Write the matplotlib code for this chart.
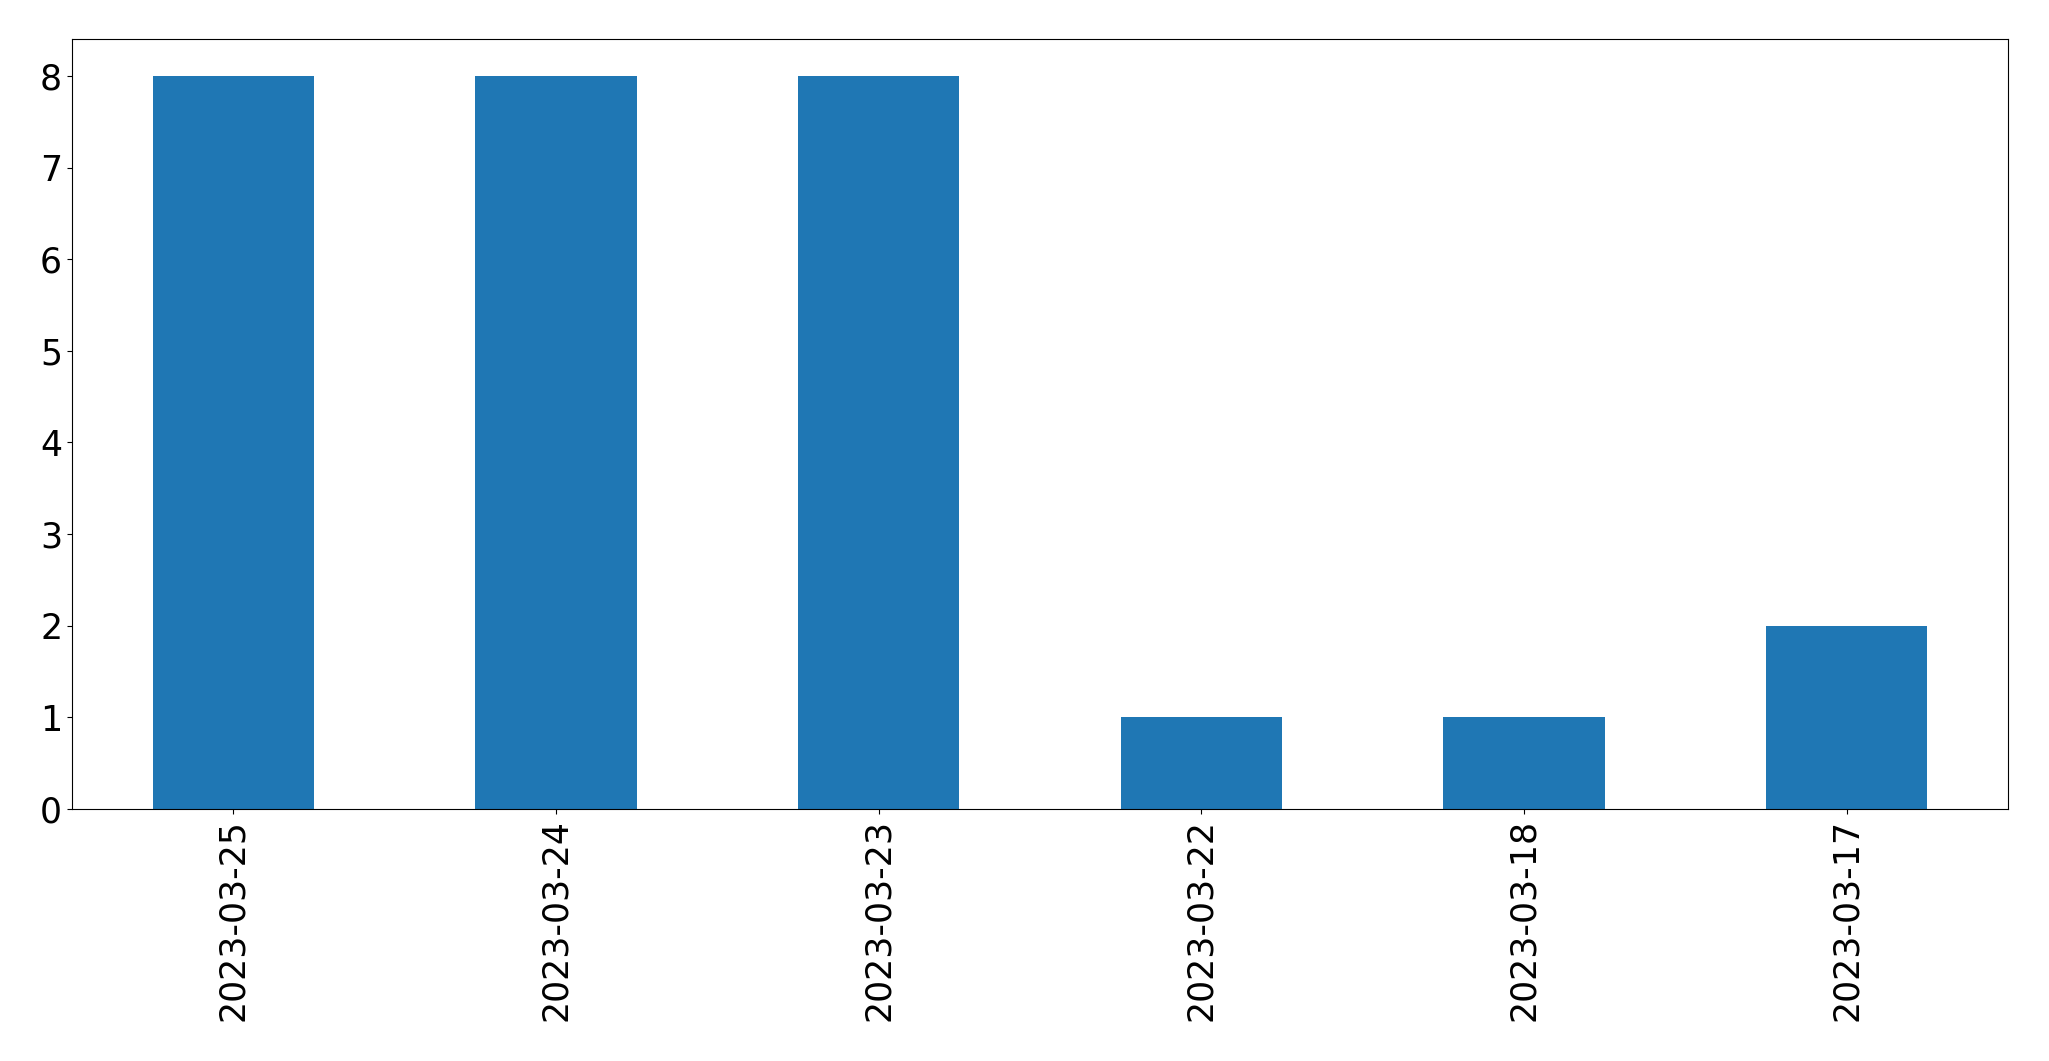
import matplotlib
matplotlib.use('Agg')
import matplotlib.pyplot as plt
import pandas as pd

# counts per day
dates = ['2023-03-25', '2023-03-24', '2023-03-23', '2023-03-22', '2023-03-18', '2023-03-17']
counts = [8, 8, 8, 1, 1, 2]

s = pd.Series(counts, index=dates)

fig, ax = plt.subplots(figsize=(20.49, 10.61), dpi=100)
s.plot(kind='bar', ax=ax, color='#1f77b4')
ax.tick_params(axis='both', labelsize=25)
fig.subplots_adjust(left=0.0351, right=0.980, top=0.963, bottom=0.2375)
fig.savefig('out.png', dpi=100)
